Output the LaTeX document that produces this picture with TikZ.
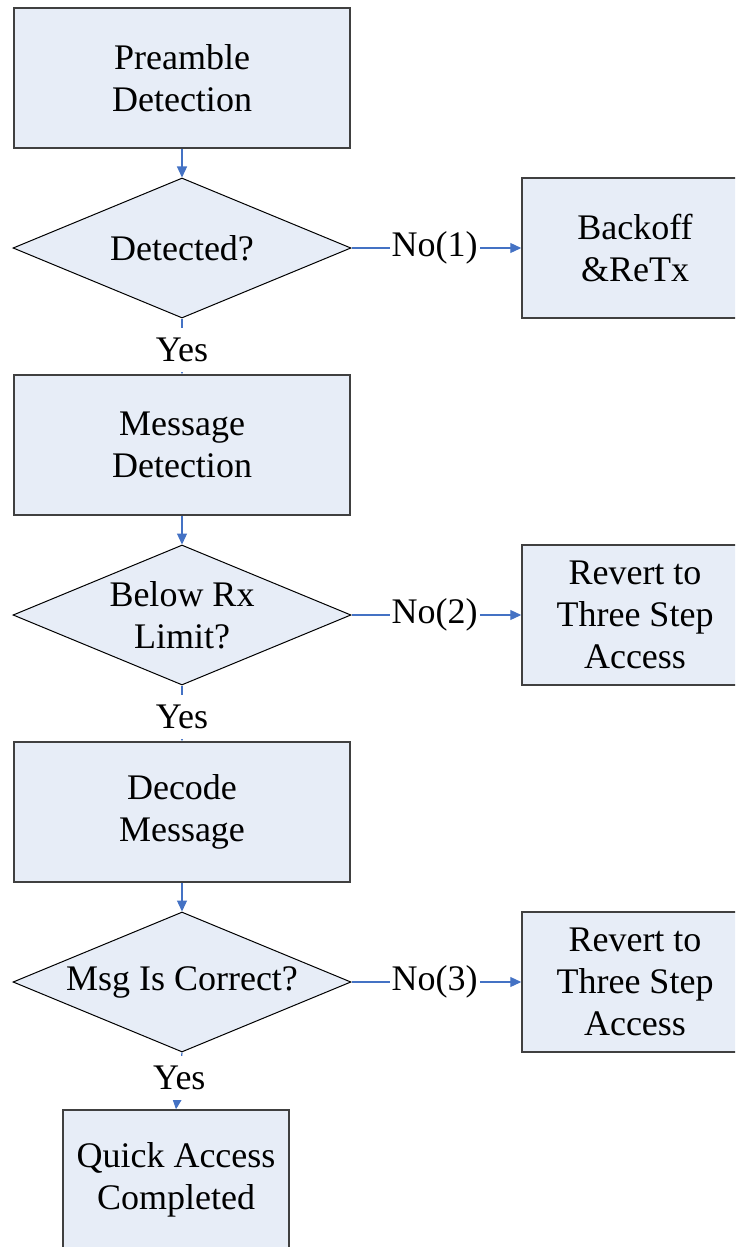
\documentclass[tikz,border=0pt]{standalone}
\usepackage{fontspec}
\setmainfont{Liberation Serif}
\usetikzlibrary{arrows.meta,shapes.geometric}
\definecolor{boxfill}{RGB}{231,237,247}
\definecolor{flowblue}{RGB}{68,114,196}
\begin{document}
\begin{tikzpicture}[x=0.5pt,y=-0.5pt,
  every node/.style={font=\fontsize{18pt}{21pt}\selectfont},
  stepbox/.style={draw=black!75, line width=0.75pt, fill=boxfill,
    minimum width=168pt, minimum height=70pt, inner sep=0pt, align=center},
  sidebox/.style={stepbox, minimum width=113pt},
  decision/.style={diamond, draw=black, line width=0.5pt, fill=boxfill,
    minimum width=169pt, minimum height=70pt, inner sep=0pt},
  dtext/.style={align=center, inner sep=0pt},
  flow/.style={draw=flowblue, line width=0.6pt,
    -{Triangle[length=5.5pt,width=5pt]}},
  answer/.style={fill=white, inner xsep=1pt, inner ysep=0pt, minimum height=22pt}
]
\useasboundingbox (0,0) rectangle (735,1247);
\clip (0,0) rectangle (735,1247);

% main column
\node[stepbox] (pre) at (182,78) {Preamble\\Detection};
\node[decision] (d1) at (182,248) {};
\node[dtext] at (d1) {Detected?};
\node[stepbox] (msg) at (182,445) {Message\\Detection};
\node[decision] (d2) at (182,615) {};
\node[dtext] at (d2) {Below Rx\\Limit?};
\node[stepbox] (dec) at (182,812) {Decode\\Message};
\node[decision] (d3) at (182,982) {};
\node[dtext] at (d3) {Msg Is Correct?};
\node[sidebox] (qa) at (176,1180) {Quick Access\\Completed};

% side exits
\node[sidebox] (bo) at (635,248) {Backoff\\\&ReTx};
\node[sidebox] (rv1) at (635,615) {Revert to\\Three Step\\Access};
\node[sidebox] (rv2) at (635,982) {Revert to\\Three Step\\Access};

% connectors
\draw[flow] (pre) -- (d1);
\draw[flow] (msg) -- (d2);
\draw[flow] (dec) -- (d3);

\draw[flow] (d1) -- node[answer, pos=0.56]{Yes} (msg);
\draw[flow] (d2) -- node[answer, pos=0.56]{Yes} (dec);
\draw[flow] (d3.south) -- node[answer, pos=0.45]{Yes} (qa.north);

\draw[flow] (d1) -- node[answer, pos=0.49]{No(1)} (bo);
\draw[flow] (d2) -- node[answer, pos=0.49]{No(2)} (rv1);
\draw[flow] (d3) -- node[answer, pos=0.49]{No(3)} (rv2);
\end{tikzpicture}
\end{document}
